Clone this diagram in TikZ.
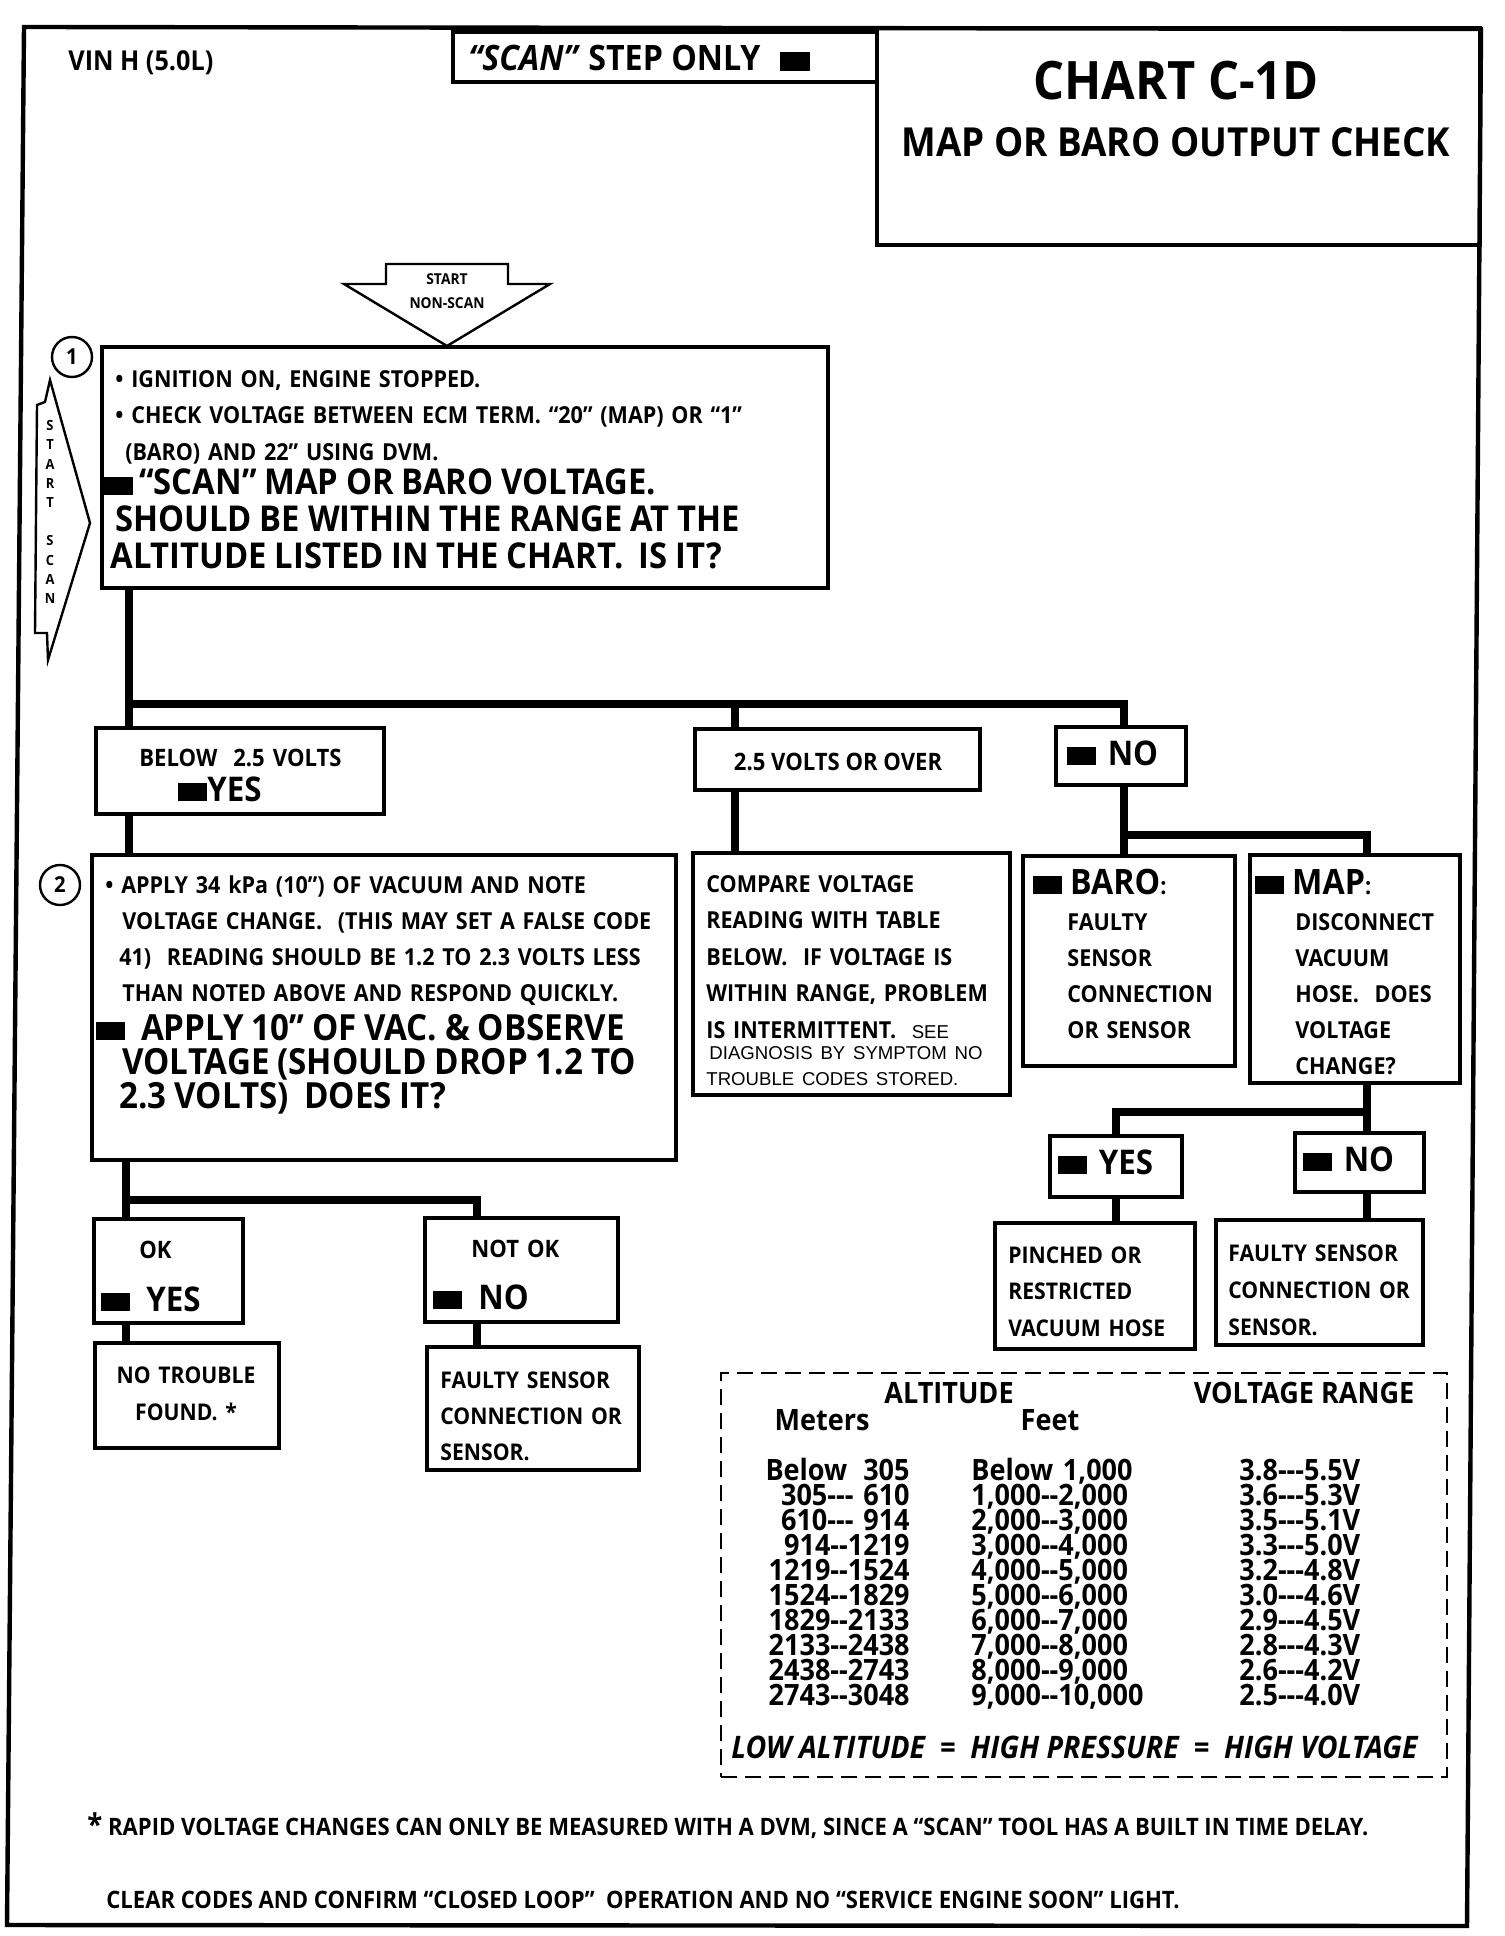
\documentclass[tikz,border=0pt]{standalone}
\usepackage{fontspec}
\usepackage{tikz}
\usetikzlibrary{fit, calc}
\setmainfont{Open Sans}[FakeStretch=0.92]
\newfontfamily\tablefont{Open Sans}[FakeStretch=0.92, Ligatures=TeXOff]
\newfontfamily\plainfont{Liberation Sans}
\newcommand{\blksq}{\rule{14.5pt}{9pt}}

\begin{document}
\begin{tikzpicture}[x=0.5pt, y=-0.5pt,
  border/.style={line width=2.2pt},
  chartbox/.style={draw, line width=1.6pt, inner sep=0pt},
  flow/.style={line width=3.6pt},
  txt/.style={anchor=base west, align=left, text width=#1, inner sep=0pt},
  smalltxt/.style={font=\bfseries\fontsize{11.7}{18}\selectfont},
  labeltxt/.style={font=\bfseries\fontsize{17}{17}\selectfont},
  stepnum/.style={circle, draw, line width=1.2pt, minimum size=20pt, inner sep=0pt, font=\bfseries\fontsize{11}{11}\selectfont},
  tabtxt/.style={anchor=base, inner sep=0pt, font=\tablefont\bfseries\fontsize{14.7}{12.5}\selectfont}
]
  \useasboundingbox (0,0) rectangle (1504,1936);

  % Outer frame
  \draw[border] (24,27) -- (1481,29) -- (1467,1926) -- (7,1925) -- cycle;

  % Header
  \node[anchor=base west, inner sep=0pt, font=\bfseries\fontsize{13.7}{14}\selectfont] (vin) at (68,71) {VIN H (5.0L)};
  \node[chartbox, fit={(453,32) (877,82)}] (scanbox) {};
  \node[anchor=base west, inner sep=0pt, font=\bfseries\fontsize{17.5}{18}\selectfont] (scantxt) at (468,71) {\textit{``SCAN''} STEP ONLY\hspace{10pt}\rule{15pt}{9.5pt}};
  \node[chartbox, fit={(877,28) (1480,245)}] (title) {};
  \node[anchor=base, inner sep=0pt, font=\bfseries\fontsize{26.5}{27}\selectfont] (chart) at (1176,100) {CHART C-1D};
  \node[anchor=base, inner sep=0pt, font=\bfseries\fontsize{20}{20}\selectfont] (subtitle) at (1176,157) {MAP OR BARO OUTPUT CHECK};

  % Start arrows
  \draw[line width=1.2pt] (386,264) -- (508,264) -- (508,284) -- (550,284) -- (447,346) -- (344,284) -- (386,284) -- cycle;
  \node[align=center, inner sep=0pt, font=\bfseries\fontsize{7.5}{12}\selectfont] (startns) at (447,291) {START\\NON-SCAN};
  \draw[line width=1.2pt] (50,380) -- (45,402) -- (37,405) -- (35,633) -- (47,633) -- (48,660) -- (90,523) -- cycle;
  \node[align=center, inner sep=0pt, font=\bfseries\fontsize{7}{9.6}\selectfont] (startsc) at (50,512) {S\\T\\A\\R\\T\\[9.6pt]S\\C\\A\\N};

  % Step 1
  \node[stepnum] (n1) at (72,357) {1};
  \node[chartbox, fit={(102,347) (828,588)}] (box1) {};
  \node[txt=380pt, smalltxt] (box1txt) at (104,388) {%
    \hspace*{5.5pt}\textbullet\ IGNITION ON, ENGINE STOPPED.\\
    \hspace*{5.5pt}\textbullet\ CHECK VOLTAGE BETWEEN ECM TERM. ``20'' (MAP) OR ``1''\\
    \hspace*{10.5pt}(BARO) AND 22'' USING DVM.\par
    \vspace{-0.75pt}\fontsize{17.8}{18.25}\selectfont
    \blksq\,``SCAN'' MAP OR BARO VOLTAGE.\\
    \hspace*{5.5pt}SHOULD BE WITHIN THE RANGE AT THE\\
    \hspace*{3pt}ALTITUDE LISTED IN THE CHART.\ \ IS IT?\par};

  % First branch labels
  \node[chartbox, fit={(96,728) (384,814)}] (below) {};
  \node[txt=140pt, font=\bfseries\fontsize{12}{17.5}\selectfont] (belowtxt) at (139,766) {BELOW\ \ 2.5 VOLTS\\\hspace*{19.5pt}{\fontsize{17}{17}\selectfont\blksq YES}};
  \node[chartbox, fit={(695,729) (980,790)}] (over) {};
  \node[anchor=base, inner sep=0pt, font=\bfseries\fontsize{12}{12}\selectfont] (overtxt) at (838,770) {2.5 VOLTS OR OVER};
  \node[chartbox, fit={(1056,727) (1186,785)}] (nobox) {};
  \node[txt=60pt, labeltxt] (notxt) at (1067,765) {\blksq\ NO};

  % Step 2
  \node[stepnum] (n2) at (60,885) {2};
  \node[chartbox, fit={(92,855) (676,1160)}] (box2) {};
  \node[txt=300pt, smalltxt] (box2txt) at (96,893) {%
    \hspace*{4.5pt}\textbullet\ APPLY 34 kPa (10'') OF VACUUM AND NOTE\\
    \hspace*{13pt}VOLTAGE CHANGE.\ \ (THIS MAY SET A FALSE CODE\\
    \hspace*{11.5pt}41)\ \ READING SHOULD BE 1.2 TO 2.3 VOLTS LESS\\
    \hspace*{13pt}THAN NOTED ABOVE AND RESPOND QUICKLY.\par
    \vspace{2.5pt}\fontsize{18}{17}\selectfont
    \blksq\ \ APPLY 10'' OF VAC. \&\ OBSERVE\\
    \hspace*{13pt}VOLTAGE (SHOULD DROP 1.2 TO\\
    \hspace*{11.5pt}2.3 VOLTS)\ \ DOES IT?\par};

  % Over 2.5 volts
  \node[chartbox, fit={(693,853) (1010,1095)}] (compare) {};
  \node[txt=160pt, font=\bfseries\fontsize{11.7}{18.3}\selectfont] (comparetxt) at (706,892) {%
    COMPARE VOLTAGE\\
    READING WITH TABLE\\
    BELOW.\ \ IF VOLTAGE IS\\
    WITHIN RANGE, PROBLEM\\
    IS INTERMITTENT.\ \ {\plainfont\mdseries\fontsize{9.3}{10}\selectfont SEE}\par
    \vspace{-2.5pt}\plainfont\mdseries\fontsize{9.3}{13}\selectfont
    \hspace*{1.5pt}DIAGNOSIS BY SYMPTOM NO\\
    TROUBLE CODES STORED.\par};

  % Baro / Map
  \node[chartbox, fit={(1023,856) (1235,1066)}] (baro) {};
  \node[txt=100pt, smalltxt] (barotxt) at (1033,894) {%
    {\fontsize{17.5}{17.5}\selectfont\blksq\ BARO}:\par
    {\leftskip=17pt FAULTY\\SENSOR\\CONNECTION\\OR SENSOR\par}};
  \node[chartbox, fit={(1250,855) (1460,1083)}] (map) {};
  \node[txt=100pt, smalltxt] (maptxt) at (1255,894) {%
    {\fontsize{17.5}{17.5}\selectfont\blksq\ MAP}:\par
    {\leftskip=20pt DISCONNECT\\VACUUM\\HOSE.\ \ DOES\\VOLTAGE\\CHANGE?\par}};

  % Map result
  \node[chartbox, fit={(1050,1136) (1182,1197)}] (yesbox) {};
  \node[txt=60pt, labeltxt] (yestxt) at (1058,1174) {\blksq\ YES};
  \node[chartbox, fit={(1295,1133) (1424,1192)}] (nobox2) {};
  \node[txt=60pt, labeltxt] (no2txt) at (1303,1171) {\blksq\ NO};
  \node[chartbox, fit={(995,1223) (1195,1349)}] (pinched) {};
  \node[txt=100pt, font=\bfseries\fontsize{11.5}{18.25}\selectfont] (pinchedtxt) at (1008,1263) {PINCHED OR\\RESTRICTED\\VACUUM HOSE};
  \node[chartbox, fit={(1216,1220) (1423,1345)}] (faulty2) {};
  \node[txt=100pt, font=\bfseries\fontsize{11.5}{18.5}\selectfont] (faulty2txt) at (1228,1261) {FAULTY SENSOR\\CONNECTION OR\\SENSOR.};

  % Vacuum result
  \node[chartbox, fit={(94,1219) (243,1323)}] (okbox) {};
  \node[txt=70pt, font=\bfseries\fontsize{12}{17.5}\selectfont] (oktxt) at (101,1258) {\hspace*{19pt}OK\\[9pt]{\fontsize{17}{17}\selectfont\blksq\ \ YES}};
  \node[chartbox, fit={(425,1218) (618,1322)}] (notok) {};
  \node[txt=90pt, font=\bfseries\fontsize{12}{17.5}\selectfont] (notoktxt) at (433,1257) {\hspace*{19pt}NOT OK\\[8.5pt]{\fontsize{17}{17}\selectfont\blksq\ \ NO}};
  \node[chartbox, fit={(95,1343) (279,1448)}] (notrouble) {};
  \node[anchor=base, align=center, text width=90pt, inner sep=0pt, font=\bfseries\fontsize{11.5}{18.5}\selectfont] (notroubletxt) at (186,1383) {NO TROUBLE\\FOUND.\ *};
  \node[chartbox, fit={(427,1347) (639,1470)}] (faulty1) {};
  \node[txt=100pt, font=\bfseries\fontsize{11.5}{18}\selectfont] (faulty1txt) at (440,1388) {FAULTY SENSOR\\CONNECTION OR\\SENSOR.};

  % Connectors
  \coordinate (ja) at (129,704);
  \coordinate (jb) at (735,704);
  \coordinate (jc) at (1124,704);
  \draw[flow] (ja |- box1.south) -- (ja) -- (jc) -- (jc |- nobox.north);
  \draw[flow] (ja) -- (ja |- below.north);
  \draw[flow] (jb) -- (jb |- over.north);
  \draw[flow] (ja |- below.south) -- (ja |- box2.north);
  \draw[flow] (jb |- over.south) -- (jb |- compare.north);
  \coordinate (jd) at (1124,835);
  \coordinate (je) at (1367,835);
  \draw[flow] (jc |- nobox.south) -- (jc |- baro.north);
  \draw[flow] (jd) -- (je) -- (je |- map.north);
  \coordinate (jf) at (1116,1112);
  \coordinate (jg) at (1367,1112);
  \draw[flow] (jg |- map.south) -- (jg) -- (jf) -- (jf |- yesbox.north);
  \draw[flow] (jg) -- (jg |- nobox2.north);
  \draw[flow] (jf |- yesbox.south) -- (jf |- pinched.north);
  \draw[flow] (jg |- nobox2.south) -- (jg |- faulty2.north);
  \coordinate (jh) at (126,1200);
  \coordinate (ji) at (477,1200);
  \draw[flow] (jh |- box2.south) -- (jh) -- (ji) -- (ji |- notok.north);
  \draw[flow] (jh) -- (jh |- okbox.north);
  \draw[flow] (jh |- okbox.south) -- (jh |- notrouble.north);
  \draw[flow] (ji |- notok.south) -- (ji |- faulty1.north);

  % Altitude table
  \node[chartbox, line width=1.2pt, dash pattern=on 8pt off 4pt, fit={(721,1373) (1447,1777)}] (alttable) {};
  \node[tabtxt] (althead) at (949,1403) {ALTITUDE};
  \node[tabtxt] (volthead) at (1304,1403) {VOLTAGE RANGE};
  \node[tabtxt] (methead) at (822,1430) {Meters};
  \node[tabtxt] (feethead) at (1050,1430) {Feet};
  \node[tabtxt, anchor=base east, align=right, text width=80pt] (metcol) at (910,1480) {%
    \lineskiplimit=-20pt
    Below\hspace{8pt}305\\305--- 610\\610--- 914\\914--1219\\1219--1524\\
    1524--1829\\1829--2133\\2133--2438\\2438--2743\\2743--3048\par};
  \node[tabtxt, anchor=base west, align=left, text width=100pt] (feetcol) at (971,1480) {%
    \lineskiplimit=-20pt
    Below 1,000\\1,000--2,000\\2,000--3,000\\3,000--4,000\\4,000--5,000\\
    5,000--6,000\\6,000--7,000\\7,000--8,000\\8,000--9,000\\9,000--10,000\par};
  \node[tabtxt, anchor=base west, align=left, text width=80pt] (voltcol) at (1239,1480) {%
    \lineskiplimit=-20pt
    3.8---5.5V\\3.6---5.3V\\3.5---5.1V\\3.3---5.0V\\3.2---4.8V\\
    3.0---4.6V\\2.9---4.5V\\2.8---4.3V\\2.6---4.2V\\2.5---4.0V\par};
  \node[anchor=base west, inner sep=0pt, font=\bfseries\itshape\fontsize{15.5}{16}\selectfont] (lawline) at (731,1758) {LOW ALTITUDE\ \ =\ \ HIGH PRESSURE\ \ =\ \ HIGH VOLTAGE};

  % Footnotes
  \node[anchor=base west, inner sep=0pt, font=\bfseries\fontsize{12}{12}\selectfont] (note) at (87,1835) {{\fontsize{15}{15}\selectfont *} RAPID VOLTAGE CHANGES CAN ONLY BE MEASURED WITH A DVM, SINCE A ``SCAN'' TOOL HAS A BUILT IN TIME DELAY.};
  \node[anchor=base west, inner sep=0pt, font=\bfseries\fontsize{12}{12}\selectfont] (clear) at (106,1908) {CLEAR CODES AND CONFIRM ``CLOSED LOOP''\ \ OPERATION AND NO ``SERVICE ENGINE SOON'' LIGHT.};
\end{tikzpicture}
\end{document}
